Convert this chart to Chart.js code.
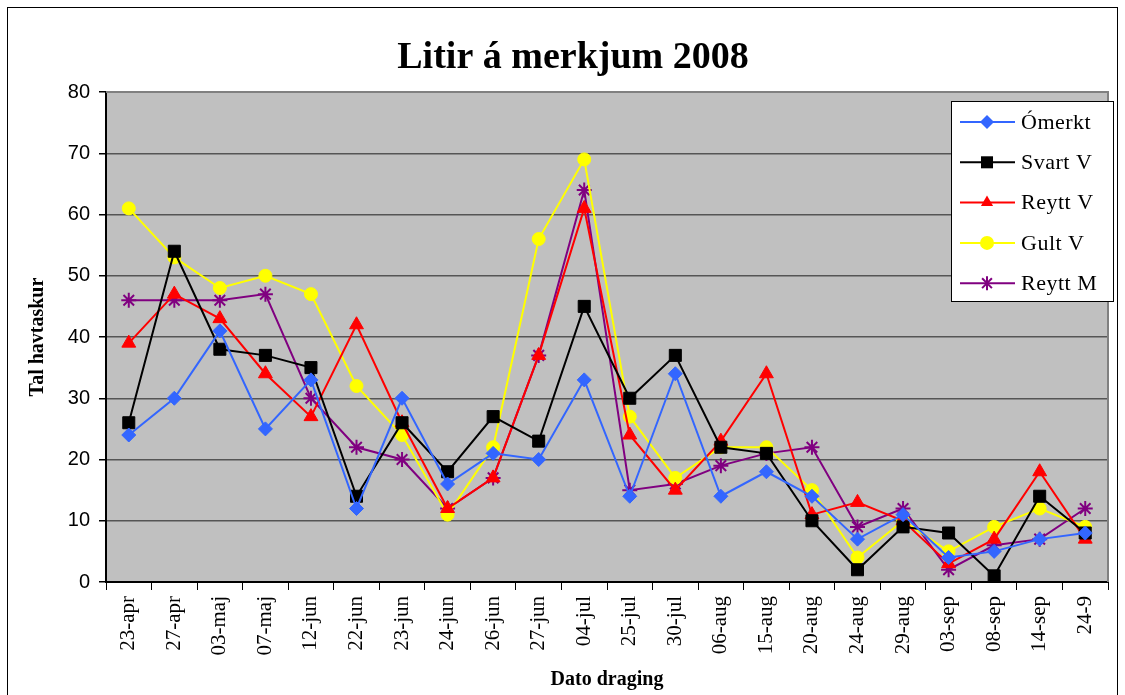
<!DOCTYPE html>
<html>
<head>
<meta charset="utf-8">
<script src="https://cdn.jsdelivr.net/npm/chart.js@4.4.0/dist/chart.umd.min.js"></script>
<style>
html, body { margin: 0; padding: 0; background: #fff; }
</style>
</head>
<body>
<canvas id="chart" width="1125" height="695"></canvas>
<script>
var labels = ["23-apr", "27-apr", "03-maj", "07-maj", "12-jun", "22-jun", "23-jun", "24-jun", "26-jun", "27-jun", "04-jul",
    "25-jul", "30-jul", "06-aug", "15-aug", "20-aug", "24-aug", "29-aug", "03-sep", "08-sep", "14-sep", "24-9"];

var omerkt  = [24, 30, 41, 25, 33, 12, 30, 16, 21, 20, 33, 14, 34, 14, 18, 14, 7, 11, 4, 5, 7, 8];
var svartV  = [26, 54, 38, 37, 35, 14, 26, 18, 27, 23, 45, 30, 37, 22, 21, 10, 2, 9, 8, 1, 14, 8];
var reyttV  = [39, 47, 43, 34, 27, 42, 26, 12, 17, 37, 61, 24, 15, 23, 34, 11, 13, 10, 3, 7, 18, 7];
var gultV   = [61, 53, 48, 50, 47, 32, 24, 11, 22, 56, 69, 27, 17, 22, 22, 15, 4, 10, 5, 9, 12, 9];
var reyttM  = [46, 46, 46, 47, 30, 22, 20, 12, 17, 37, 64, 15, 16, 19, 21, 22, 9, 12, 2, 6, 7, 12];

var yTicks = [0, 10, 20, 30, 40, 50, 60, 70, 80];
var chartTitle = 'Litir á merkjum 2008';

function series(name, values, color, style, radius) {
    return {
        label: name,
        data: values,
        borderColor: color,
        backgroundColor: color,
        borderWidth: 2,
        pointStyle: style,
        pointRadius: radius,
        pointHoverRadius: radius,
        pointBackgroundColor: color,
        pointBorderColor: color,
        pointBorderWidth: style === 'star' ? 2 : 1,
        tension: 0
    };
}

var datasets = [
    series("Ómerkt", omerkt, "#3366ff", "rectRot", 7),
    series("Svart V", svartV, "#000000", "rect", 8.5),
    series("Reytt V", reyttV, "#ff0000", "triangle", 8),
    series("Gult V", gultV, "#ffff00", "circle", 6.5),
    series("Reytt M", reyttM, "#800080", "star", 7.5)
];

function drawMarker(c, style, x, y, r, color) {
    c.save();
    c.fillStyle = color;
    c.strokeStyle = color;
    c.lineWidth = 2;
    c.beginPath();
    if (style === 'rectRot') {
        c.moveTo(x - r, y); c.lineTo(x, y - r); c.lineTo(x + r, y); c.lineTo(x, y + r); c.closePath(); c.fill();
    } else if (style === 'rect') {
        var s = r * Math.SQRT1_2;
        c.fillRect(x - s, y - s, 2 * s, 2 * s);
    } else if (style === 'triangle') {
        c.moveTo(x, y - r); c.lineTo(x + r * 0.87, y + r * 0.5); c.lineTo(x - r * 0.87, y + r * 0.5); c.closePath(); c.fill();
    } else if (style === 'circle') {
        c.arc(x, y, r, 0, Math.PI * 2); c.fill();
    } else if (style === 'star') {
        c.moveTo(x, y - r); c.lineTo(x, y + r);
        var d = r * 0.7;
        c.moveTo(x - d, y - d); c.lineTo(x + d, y + d);
        c.moveTo(x + d, y - d); c.lineTo(x - d, y + d);
        c.stroke();
    }
    c.restore();
}

var framePlugin = {
    id: 'frame',
    beforeDraw: function (chart) {
        var c = chart.ctx, a = chart.chartArea;
        c.save();
        c.fillStyle = '#ffffff';
        c.fillRect(0, 0, chart.width, chart.height);
        c.strokeStyle = '#000000';
        c.lineWidth = 1;
        c.strokeRect(7.5, 7.5, 1110, 720);
        c.fillStyle = '#c0c0c0';
        c.fillRect(a.left, a.top, a.right - a.left, a.bottom - a.top);
        // title
        c.fillStyle = '#000000';
        c.font = 'bold 38px "Liberation Serif"';
        c.textAlign = 'center';
        c.textBaseline = 'middle';
        c.fillText(chartTitle, 573, 58);
        c.restore();
    },
    beforeDatasetsDraw: function (chart) {
        var c = chart.ctx, a = chart.chartArea;
        c.save();
        c.strokeStyle = '#808080';
        c.lineWidth = 2;
        c.beginPath();
        c.moveTo(a.left, a.top);
        c.lineTo(a.right, a.top);
        c.lineTo(a.right, a.bottom);
        c.stroke();
        c.restore();
    }
};

var legendPlugin = {
    id: 'boxLegend',
    afterDraw: function (chart) {
        var c = chart.ctx;
        var x0 = 951, y0 = 101, w = 162, h = 200;
        c.save();
        c.fillStyle = '#ffffff';
        c.fillRect(x0, y0, w, h);
        c.strokeStyle = '#000000';
        c.lineWidth = 1;
        c.strokeRect(x0 + 0.5, y0 + 0.5, w, h);
        c.font = '22px "Liberation Serif"';
        c.letterSpacing = '0.5px';
        c.textBaseline = 'middle';
        chart.data.datasets.forEach(function (ds, i) {
            var y = 122 + i * 40.3;
            c.strokeStyle = ds.borderColor;
            c.lineWidth = 2;
            c.beginPath();
            c.moveTo(960, y);
            c.lineTo(1015, y);
            c.stroke();
            drawMarker(c, ds.pointStyle, 987, y, ds.pointStyle === 'rect' ? 8.5 : 7, ds.borderColor);
            c.fillStyle = '#000000';
            c.fillText(ds.label, 1021, y + 1);
        });
        c.restore();
    }
};

var ctx = document.getElementById("chart").getContext("2d");

var myChart = new Chart(ctx, {
    type: 'line',
    data: { labels: labels, datasets: datasets },
    plugins: [framePlugin, legendPlugin],
    options: {
        responsive: false,
        animation: false,
        layout: { padding: { left: 0, right: 17, top: 92, bottom: 0 } },
        plugins: {
            legend: { display: false },
            tooltip: { enabled: false },
            title: { display: false }
        },
        scales: {
            x: {
                offset: true,
                grid: {
                    offset: true,
                    drawOnChartArea: false,
                    drawTicks: true,
                    tickLength: 8,
                    tickColor: '#000000'
                },
                border: { display: true, color: '#000000', width: 2 },
                ticks: {
                    autoSkip: false,
                    minRotation: 90,
                    maxRotation: 90,
                    padding: 6,
                    color: '#000000',
                    font: { family: '"Liberation Serif"', size: 21 }
                },
                title: {
                    display: true,
                    text: 'Dato draging',
                    color: '#000000',
                    font: { family: '"Liberation Serif"', size: 20, weight: 'bold' },
                    padding: { top: 0, bottom: 3 }
                },
                afterFit: function (scale) { scale.height = 113; }
            },
            y: {
                min: 0,
                max: 80,
                afterBuildTicks: function (scale) {
                    scale.ticks = yTicks.map(function (v) { return { value: v }; });
                },
                grid: {
                    color: '#555555',
                    lineWidth: 1.5,
                    tickLength: 7,
                    tickColor: '#000000'
                },
                border: { display: true, color: '#000000', width: 2 },
                ticks: {
                    padding: 9,
                    color: '#000000',
                    font: { family: '"Liberation Sans"', size: 20 }
                },
                title: {
                    display: true,
                    text: 'Tal havtaskur',
                    color: '#000000',
                    font: { family: '"Liberation Serif"', size: 20, weight: 'bold' },
                    padding: { top: 26, bottom: 0 }
                },
                afterFit: function (scale) { scale.width = 106; }
            }
        }
    }
});
</script>
</body>
</html>
